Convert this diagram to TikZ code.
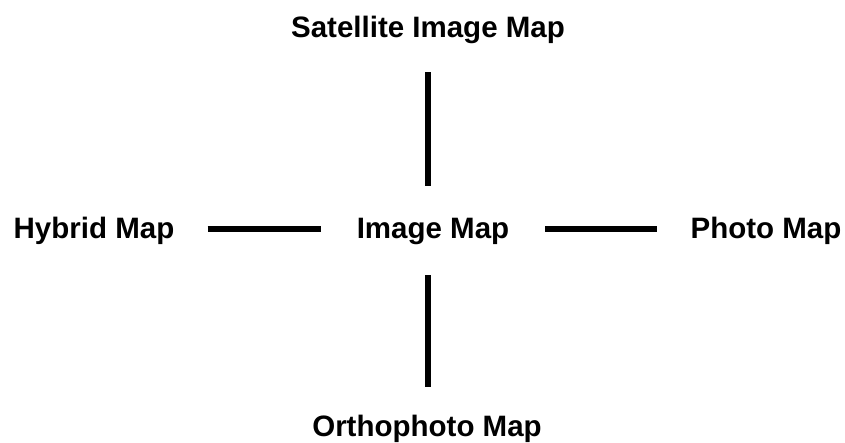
\documentclass[tikz,border=0pt]{standalone}
\usepackage{fontspec}
\setmainfont{Liberation Sans}
\begin{document}
\begin{tikzpicture}[x=1pt,y=-1pt,
  lbl/.style={font=\fontsize{29.5}{32}\selectfont\bfseries, inner sep=0pt, text height=22pt, text depth=2pt, anchor=base},
  conn/.style={line width=5.5pt, line cap=butt}]
\useasboundingbox (0,0) rectangle (845,443);
\node[lbl] (sat) at (428,38) {Satellite Image Map};
\node[lbl] (hyb) at (94,239) {Hybrid Map};
\node[lbl] (img) at (433,239) {Image Map};
\node[lbl] (pho) at (766,239) {Photo Map};
\node[lbl] (ort) at (427,436) {Orthophoto Map};
\draw[conn, shorten <=32pt, shorten >=31pt] (sat.south) -- (sat.south |- img.north);
\draw[conn, shorten <=34pt, shorten >=27pt] (sat.south |- img.south) -- (sat.south |- ort.north);
\draw[conn, shorten <=33pt, shorten >=36pt] (hyb.east) -- (img.west);
\draw[conn, shorten <=36pt, shorten >=33pt] (img.east) -- (pho.west);
\end{tikzpicture}
\end{document}
